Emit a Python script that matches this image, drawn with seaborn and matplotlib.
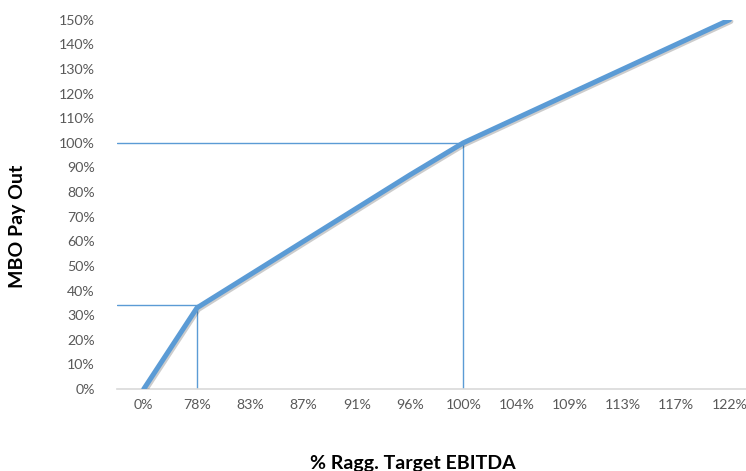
import numpy as np
import pandas as pd
import matplotlib
matplotlib.use("Agg")
import matplotlib.pyplot as plt
import matplotlib.patheffects as pe
from matplotlib.ticker import FuncFormatter
import seaborn as sns

# chart data
ebitda_labels = ["0%", "78%", "83%", "87%", "91%", "96%", "100%",
                 "104%", "109%", "113%", "117%", "122%"]
payout = [0, 33, 46.5, 60, 73.5, 87, 100, 110, 120, 130, 140, 150]

# guide lines (threshold and target)
guide_idx = [1, 6]
guide_val = [34, 100]

sns.set_theme(style="white")
plt.rcParams["font.family"] = ["Lato", "DejaVu Sans"]

blue = "#5B9BD5"
grey = "#595959"

df = pd.DataFrame({"x": np.arange(len(ebitda_labels)), "payout": payout})

fig = plt.figure(figsize=(7.46, 4.71), dpi=100)
ax = fig.add_axes([0.157, 0.174, 0.843, 0.784])

for gi, gv in zip(guide_idx, guide_val):
    ax.plot([-0.5, gi], [gv, gv], color=blue, lw=1.0, zorder=1)
    ax.plot([gi, gi], [0, gv], color=blue, lw=1.0, zorder=1)

sns.lineplot(data=df, x="x", y="payout", ax=ax, color=blue, lw=3.6,
             zorder=3, solid_joinstyle="round",
             path_effects=[pe.SimpleLineShadow(offset=(1.0, -1.2), alpha=0.22),
                           pe.Normal()])

ax.set_xlim(-0.5, 11.31)
ax.set_ylim(0, 150)
ax.set_yticks(np.arange(0, 151, 10))
ax.yaxis.set_major_formatter(FuncFormatter(lambda v, p: f"{v:.0f}%"))
ax.set_xticks(df["x"])
ax.set_xticklabels(ebitda_labels)
ax.tick_params(axis="both", length=0, labelsize=10.2, labelcolor=grey)
ax.tick_params(axis="y", pad=16)
ax.tick_params(axis="x", pad=7)

for side in ["top", "right", "left"]:
    ax.spines[side].set_visible(False)
ax.spines["bottom"].set_color("#D9D9D9")
ax.spines["bottom"].set_linewidth(1.2)

ax.set_xlabel("")
ax.set_ylabel("")
fig.text(413 / 746, 1 - 464 / 471, "% Ragg. Target EBITDA", ha="center",
         va="center", fontsize=14, fontweight="bold", color="black")
fig.text(18 / 746, 1 - 226 / 471, "MBO Pay Out", ha="center", va="center",
         rotation=90, fontsize=14, fontweight="bold", color="black")

fig.savefig("out.png", dpi=100)
plt.close(fig)
